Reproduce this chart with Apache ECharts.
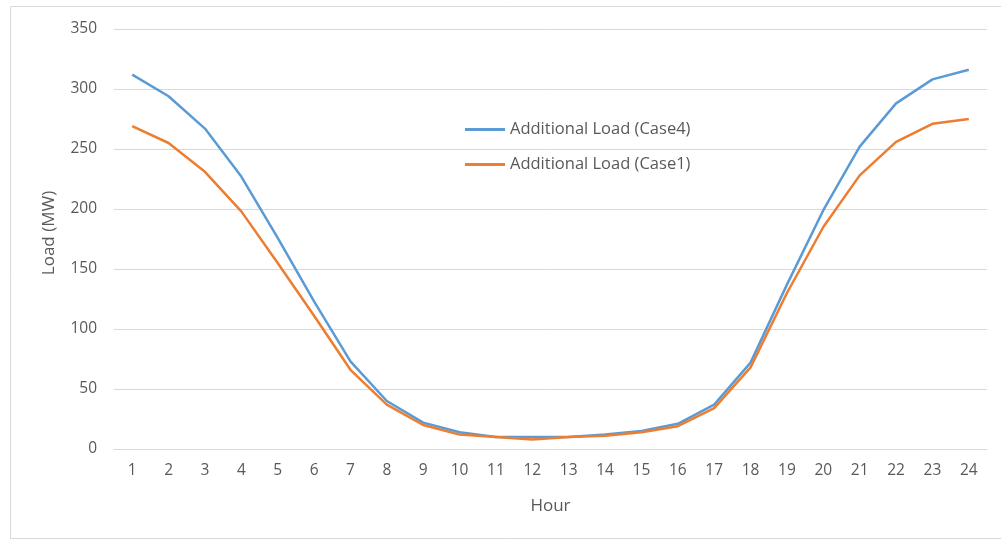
<!DOCTYPE html>
<html>
<head>
<meta charset="utf-8">
<script src="https://cdn.jsdelivr.net/npm/echarts@6/dist/echarts.min.js"></script>
<style>
html,body{margin:0;padding:0;background:#fff;}
#c{width:1001px;height:541px;}
</style>
</head>
<body>
<div id="c"></div>
<script>
const hours = ['1','2','3','4','5','6','7','8','9','10','11','12','13','14','15','16','17','18','19','20','21','22','23','24'];
const case4 = [312, 294, 267, 227, 176, 123, 73, 40, 22, 14, 10, 10, 10, 12, 15, 21, 37, 72, 137, 199, 252, 288, 308, 316];
const case1 = [269, 255, 231, 198, 155, 111, 66, 37, 20, 12, 10, 8, 10, 11, 14, 19, 34, 68, 130, 185, 228, 256, 271, 275];
const seriesNames = ['Additional Load (Case4)', 'Additional Load (Case1)'];
const yTicks = [0, 50, 100, 150, 200, 250, 300, 350];

const FONT = '"Open Sans", "Noto Sans", sans-serif';
const TXT = '#595959';
const chart = echarts.init(document.getElementById('c'), null, {renderer: 'canvas'});
chart.setOption({
  animation: false,
  backgroundColor: '#ffffff',
  graphic: [{
    type: 'rect',
    shape: {x: 10.5, y: 6.5, width: 1000, height: 532},
    style: {fill: 'none', stroke: '#d9d9d9', lineWidth: 1},
    silent: true
  }],
  grid: {left: 114, right: 14, top: 29, bottom: 92},
  legend: {
    orient: 'vertical',
    left: 460,
    top: 116,
    itemWidth: 40,
    itemHeight: 3,
    itemGap: 18,
    icon: 'rect',
    textStyle: {color: TXT, fontFamily: FONT, fontSize: 16.5},
    data: seriesNames
  },
  xAxis: {
    type: 'category',
    data: hours,
    boundaryGap: true,
    name: 'Hour',
    nameLocation: 'middle',
    nameGap: 49,
    nameTextStyle: {color: TXT, fontFamily: FONT, fontSize: 17},
    axisLine: {lineStyle: {color: '#d9d9d9', width: 1}},
    axisTick: {show: false},
    axisLabel: {color: TXT, fontFamily: FONT, fontSize: 15.5, margin: 14, interval: 0}
  },
  yAxis: {
    type: 'value',
    min: yTicks[0],
    max: yTicks[yTicks.length - 1],
    interval: 50,
    name: 'Load (MW)',
    nameLocation: 'middle',
    nameGap: 56,
    nameRotate: 90,
    nameTextStyle: {color: TXT, fontFamily: FONT, fontSize: 17, padding: [0, 0, 0, 12]},
    axisLine: {show: false},
    axisTick: {show: false},
    axisLabel: {color: TXT, fontFamily: FONT, fontSize: 15.5, margin: 17},
    splitLine: {lineStyle: {color: '#d9d9d9', width: 1}}
  },
  series: [
    {name: seriesNames[0], type: 'line', data: case4, symbol: 'none', showSymbol: false,
     lineStyle: {color: '#5b9bd5', width: 2.5}, itemStyle: {color: '#5b9bd5'}},
    {name: seriesNames[1], type: 'line', data: case1, symbol: 'none', showSymbol: false,
     lineStyle: {color: '#ed7d31', width: 2.5}, itemStyle: {color: '#ed7d31'}}
  ]
});
</script>
</body>
</html>
